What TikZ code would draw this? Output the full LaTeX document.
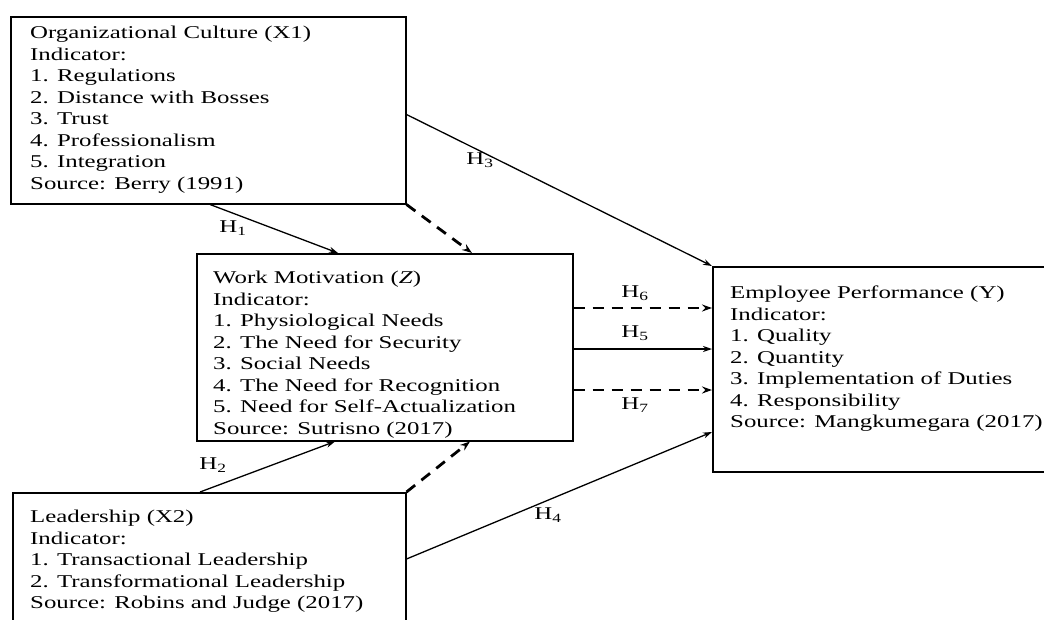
\documentclass[tikz,border=0pt]{standalone}
\usepackage{fontspec}
\setmainfont{Liberation Serif}
\newfontfamily\wideserif[FakeStretch=1.38]{Liberation Serif}
\usetikzlibrary{arrows.meta,calc}
\begin{document}
\begin{tikzpicture}[x=1pt,y=-1pt,
  boxnode/.style={draw,line width=1.5pt,rectangle,inner sep=0pt,anchor=north west},
  txt/.style={anchor=north west,inner sep=0pt,align=left,font=\wideserif\fontsize{18}{21.5}\selectfont},
  lbl/.style={inner sep=0pt,font=\wideserif\fontsize{18}{21.5}\selectfont},
  sarr/.style={line width=1.3pt,-{Stealth[length=9pt,width=6pt]}},
  darr/.style={line width=2.8pt,dash pattern=on 11pt off 8pt,-{Stealth[length=10pt,width=7pt]}}]
\useasboundingbox (0,0) rectangle (1044,619);
\fill[white] (0,0) rectangle (1044,619);
\clip (0,0) rectangle (1044,619);

% boxes
\node[boxnode,minimum width=395pt,minimum height=187pt] (X1) at (10,16) {};
\node[boxnode,minimum width=376pt,minimum height=187pt] (Z) at (196,253) {};
\node[boxnode,minimum width=360pt,minimum height=205pt] (Y) at (712,266) {};
\node[boxnode,minimum width=393pt,minimum height=160pt] (X2) at (12,492) {};

% texts
\node[txt] (tX1) at (30,26) {Organizational Culture (X1)\\Indicator:\\1. Regulations\\2. Distance with Bosses\\3. Trust\\4. Professionalism\\5. Integration\\Source: Berry (1991)};
\node[txt] (tZ) at (213,271) {Work Motivation (\textit{Z})\\Indicator:\\1. Physiological Needs\\2. The Need for Security\\3. Social Needs\\4. The Need for Recognition\\5. Need for Self-Actualization\\Source: Sutrisno (2017)};
\node[txt] (tY) at (730,286) {Employee Performance (Y)\\Indicator:\\1. Quality\\2. Quantity\\3. Implementation of Duties\\4. Responsibility\\Source: Mangkumegara (2017)};
\node[txt] (tX2) at (30,510) {Leadership (X2)\\Indicator:\\1. Transactional Leadership\\2. Transformational Leadership\\Source: Robins and Judge (2017)};

% connectors
\draw[sarr] ($(X1.south west)+(200,0)$) -- ($(Z.north west)+(142,0)$);
\draw[darr] (X1.south east) -- ($(Z.north west)+(276,0)$);
\draw[sarr] ($(X1.south east)+(0,-90)$) -- (Y.north west);
\draw[sarr] ($(X2.north west)+(188,0)$) -- ($(Z.south west)+(139,0)$);
\draw[darr] (X2.north east) -- ($(Z.south west)+(274,0)$);
\draw[sarr] ($(X2.north east)+(0,67)$) -- ($(Y.north west)+(0,166)$);
\draw[darr] ($(Z.north east)+(0,55)$) -- ($(Y.north west)+(0,42)$);
\draw[sarr] ($(Z.north east)+(0,96)$) -- ($(Y.north west)+(0,83)$);
\draw[darr] ($(Z.north east)+(0,137)$) -- ($(Y.north west)+(0,124)$);

% labels
\node[lbl] (h1) at (233,228) {H\textsubscript{1}};
\node[lbl] (h2) at (213,465) {H\textsubscript{2}};
\node[lbl] (h3) at (480,160) {H\textsubscript{3}};
\node[lbl] (h4) at (548,515) {H\textsubscript{4}};
\node[lbl] (h5) at (635,333) {H\textsubscript{5}};
\node[lbl] (h6) at (635,293) {H\textsubscript{6}};
\node[lbl] (h7) at (635,405) {H\textsubscript{7}};
\end{tikzpicture}
\end{document}
